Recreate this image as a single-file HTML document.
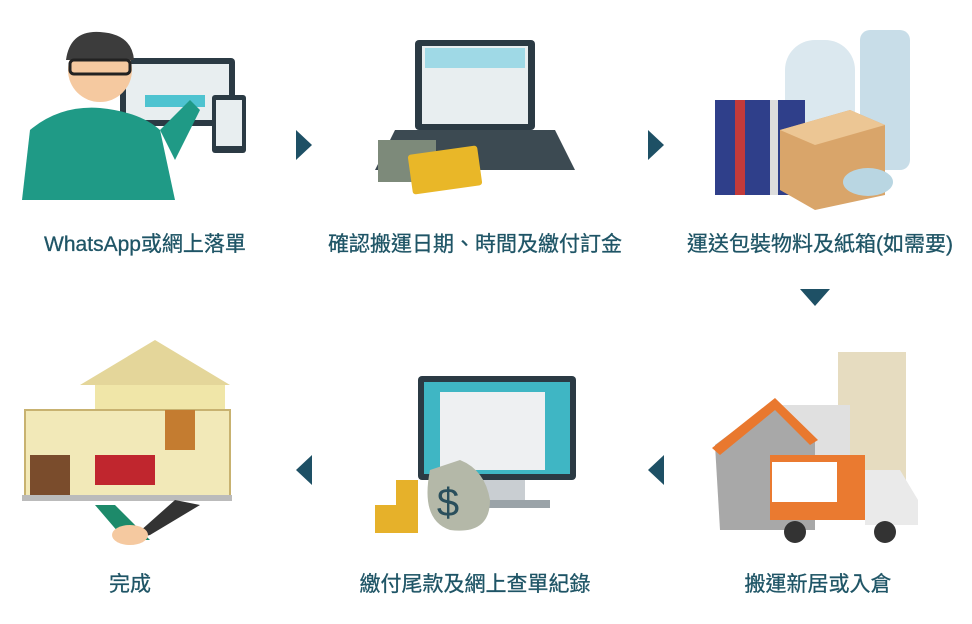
<!DOCTYPE html>
<html><head><meta charset="utf-8"><style>
body{margin:0;width:972px;height:624px;background:#fff;position:relative;overflow:hidden;font-family:"Liberation Sans","Noto Sans CJK TC",sans-serif}
.l{position:absolute;color:#1f5566;font-size:21px;white-space:nowrap;transform:translateX(-50%);-webkit-text-stroke:0.3px #1f5566}
svg{position:absolute;left:0;top:0}
</style></head><body>
<svg width="972" height="624">
<rect x="120" y="58" width="115" height="68" rx="4" fill="#2b3a44"/><rect x="126" y="64" width="103" height="56" fill="#e8eef0"/>
<rect x="212" y="95" width="34" height="58" rx="3" fill="#2b3a44"/><rect x="216" y="100" width="26" height="46" fill="#e8eef0"/>
<rect x="145" y="95" width="60" height="12" fill="#4ec3d0"/>
<path d="M22 200 L30 130 Q60 105 100 108 Q140 112 160 130 L175 200 Z" fill="#1f9a86"/>
<path d="M160 130 L190 100 L200 110 L175 160 Z" fill="#1f9a86"/>
<circle cx="100" cy="70" r="32" fill="#f5c9a0"/><path d="M66 60 Q70 30 100 32 Q132 34 134 60 Z" fill="#3c3c3c"/>
<rect x="70" y="60" width="60" height="14" rx="4" fill="none" stroke="#222" stroke-width="3"/>
<rect x="415" y="40" width="120" height="90" rx="4" fill="#2b3a44"/><rect x="422" y="46" width="106" height="78" fill="#e8eef0"/>
<rect x="425" y="48" width="100" height="20" fill="#9fd9e6"/>
<path d="M395 130 L555 130 L575 170 L375 170 Z" fill="#3c4a52"/>
<rect x="378" y="140" width="58" height="42" fill="#7d8a7a"/>
<rect x="410" y="150" width="70" height="40" rx="3" fill="#e9b728" transform="rotate(-8 445 170)"/>
<rect x="860" y="30" width="50" height="140" rx="10" fill="#c8dde8"/>
<rect x="785" y="40" width="70" height="120" rx="30" fill="#dbe8ef"/>
<rect x="715" y="100" width="90" height="95" fill="#2f3f8a"/><rect x="735" y="100" width="10" height="95" fill="#c23a3a"/><rect x="770" y="100" width="8" height="95" fill="#ddd"/>
<path d="M780 130 L850 110 L885 125 L885 195 L815 210 L780 190 Z" fill="#d9a56a"/>
<path d="M780 130 L850 110 L885 125 L815 145 Z" fill="#ecc694"/>
<ellipse cx="868" cy="182" rx="25" ry="14" fill="#b9d6e2"/>
<rect x="838" y="352" width="68" height="160" fill="#e6dcc0"/>
<rect x="780" y="405" width="70" height="110" fill="#e0e0e0"/>
<path d="M715 445 L775 400 L815 440 L815 530 L720 530 Z" fill="#a8a8a8"/>
<path d="M712 448 L775 398 L818 440 L810 445 L775 410 L720 455 Z" fill="#e9782e"/>
<rect x="770" y="455" width="95" height="65" fill="#ea7a30"/><rect x="772" y="462" width="65" height="40" fill="#fff"/>
<path d="M865 470 L900 470 L918 500 L918 525 L865 525 Z" fill="#eaeaea"/>
<circle cx="795" cy="532" r="11" fill="#333"/><circle cx="885" cy="532" r="11" fill="#333"/>
<rect x="418" y="376" width="158" height="104" rx="4" fill="#2b3a44"/><rect x="424" y="382" width="146" height="92" fill="#3fb6c4"/>
<rect x="440" y="392" width="105" height="78" fill="#eef0f2"/><rect x="465" y="480" width="60" height="22" fill="#c9ced2"/><rect x="440" y="500" width="110" height="8" fill="#9aa3a8"/>
<path d="M430 470 Q420 520 450 530 Q490 535 490 500 Q485 470 460 460 Z" fill="#b4b8a8"/>
<text x="448" y="516" font-size="40" fill="#2a4f5c" font-family="Liberation Sans" text-anchor="middle">$</text>
<rect x="375" y="505" width="22" height="28" fill="#e6b12a"/><rect x="396" y="480" width="22" height="53" fill="#e6b12a"/>
<path d="M80 385 L155 340 L230 385 Z" fill="#e4d69a"/>
<rect x="95" y="385" width="130" height="35" fill="#f0e6a8"/>
<rect x="25" y="410" width="205" height="90" fill="#f2e9b8" stroke="#c8b270" stroke-width="2"/>
<rect x="95" y="455" width="60" height="30" fill="#c0262e"/><rect x="30" y="455" width="40" height="40" fill="#7a4c2c"/><rect x="165" y="410" width="30" height="40" fill="#c47c30"/>
<rect x="22" y="495" width="210" height="6" fill="#bbb"/>
<path d="M95 505 L125 540 L150 540 L115 505 Z" fill="#1d8a6a"/><path d="M200 505 L150 535 L130 540 L175 500 Z" fill="#333"/>
<ellipse cx="130" cy="535" rx="18" ry="10" fill="#f5c9a0"/>
<g fill="#1e5065">
<path d="M296 130 L312 145 L296 160 Z"/><path d="M648 130 L664 145 L648 160 Z"/>
<path d="M800 289 L830 289 L815 306 Z"/>
<path d="M312 455 L296 470 L312 485 Z"/><path d="M664 455 L648 470 L664 485 Z"/>
</g>
</svg>
<div class="l" style="left:145px;top:228px">WhatsApp或網上落單</div>
<div class="l" style="left:475px;top:228px">確認搬運日期、時間及繳付訂金</div>
<div class="l" style="left:820px;top:228px">運送包裝物料及紙箱(如需要)</div>
<div class="l" style="left:130px;top:568px">完成</div>
<div class="l" style="left:475px;top:568px">繳付尾款及網上查單紀錄</div>
<div class="l" style="left:818px;top:568px">搬運新居或入倉</div>
</body></html>
